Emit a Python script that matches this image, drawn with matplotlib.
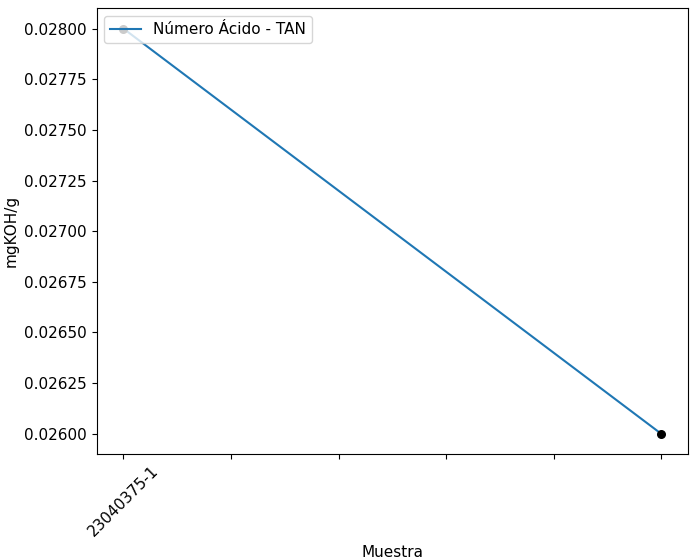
import matplotlib
matplotlib.use('Agg')
import matplotlib.pyplot as plt

# Sample positions and measured acid number (mgKOH/g)
positions = [0, 5]
tan_values = [0.028, 0.026]
tick_labels = ['23040375-1', '', '', '', '', '']

plt.rcParams['font.size'] = 11

fig, ax = plt.subplots(figsize=(6.9, 5.59), dpi=100)
ax.plot(positions, tan_values, color='#1f77b4', label='Número Ácido - TAN')
ax.scatter(positions, tan_values, color='black', s=30, zorder=3)

ax.set_xticks(range(len(tick_labels)))
ax.set_xticklabels(tick_labels, rotation=45)
ax.set_xlabel('Muestra')
ax.set_ylabel('mgKOH/g')
ax.legend(loc='upper left')

plt.subplots_adjust(left=0.14, right=0.997, top=0.985, bottom=0.188)
plt.savefig('out.png')
